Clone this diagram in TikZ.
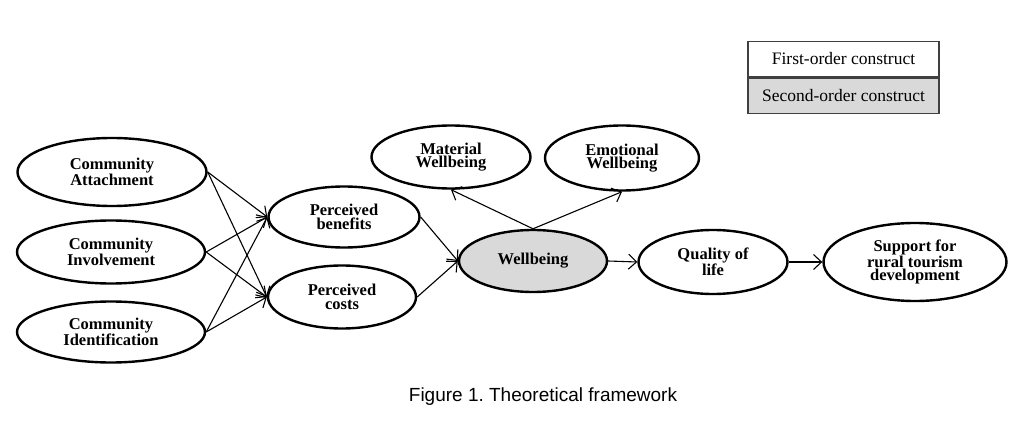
\documentclass[tikz,border=0pt]{standalone}
\usepackage{fontspec}
\setmainfont{Liberation Serif}
\newfontfamily\capfont{Liberation Sans}
\usetikzlibrary{shapes.geometric,arrows.meta}
\frenchspacing
\begin{document}
\begin{tikzpicture}[x=1pt,y=-1pt,
  construct/.style={ellipse, draw, line width=2.4pt, inner sep=0pt, align=center,
    font=\bfseries\fontsize{16.5}{13.8}\selectfont},
  link/.style={line width=1.1pt, -{Straight Barb[length=8pt,width=15pt,line width=1.1pt]}},
  legendbox/.style={rectangle, draw=black!75, line width=1.2pt, minimum width=191pt,
    minimum height=35.5pt, inner sep=0pt, font=\fontsize{17.5}{20}\selectfont}
]
\useasboundingbox (0,0) rectangle (1024,446);
% construct nodes
\node[construct, minimum width=189pt, minimum height=68pt] (CA) at (112,172) {Community\\Attachment};
\node[construct, minimum width=188pt, minimum height=63pt] (CI) at (111,252) {Community\\Involvement};
\node[construct, minimum width=188pt, minimum height=61pt] (CD) at (111,332) {Community\\Identification};
\node[construct, minimum width=151pt, minimum height=61pt] (PB) at (344,217) {Perceived\\benefits};
\node[construct, minimum width=148pt, minimum height=63pt] (PC) at (342,297) {Perceived\\costs};
\node[construct, minimum width=159pt, minimum height=63pt] (MW) at (451,157) {Material\\Wellbeing};
\node[construct, minimum width=154pt, minimum height=65pt] (EW) at (622,158) {Emotional\\Wellbeing};
\node[construct, fill=black!15, minimum width=148pt, minimum height=62pt] (WB) at (533,261) {Wellbeing};
\node[construct, minimum width=149pt, minimum height=64pt] (QL) at (713,262) {Quality of\\life};
\node[construct, minimum width=183pt, minimum height=78pt] (SP) at (915,262) {Support for\\rural tourism\\development};
% connectors
\draw[link] (CA.east) -- (PB.west);
\draw[link] (CA.east) -- (PC.west);
\draw[link] (CI.east) -- (PB.west);
\draw[link] (CI.east) -- (PC.west);
\draw[link] (CD.east) -- (PB.west);
\draw[link] (CD.east) -- (PC.west);
\draw[link] (PB.east) -- (WB.west);
\draw[link] (PC.east) -- (WB.west);
\draw[link] (WB.north) -- (MW.south);
\draw[link] (WB.north) -- (EW.south);
\draw[link] (WB.east) -- (QL.west);
\draw[link] (QL.east) -- (SP.west);
% legend
\node[legendbox] (L1) at (843.5,59) {First-order construct};
\node[legendbox, fill=black!15, anchor=north] (L2) at (L1.south) {Second-order construct};
% caption
\node[font=\capfont\fontsize{19}{22}\selectfont, inner sep=0pt] (cap) at (543,397) {Figure 1. Theoretical framework};
\end{tikzpicture}
\end{document}
